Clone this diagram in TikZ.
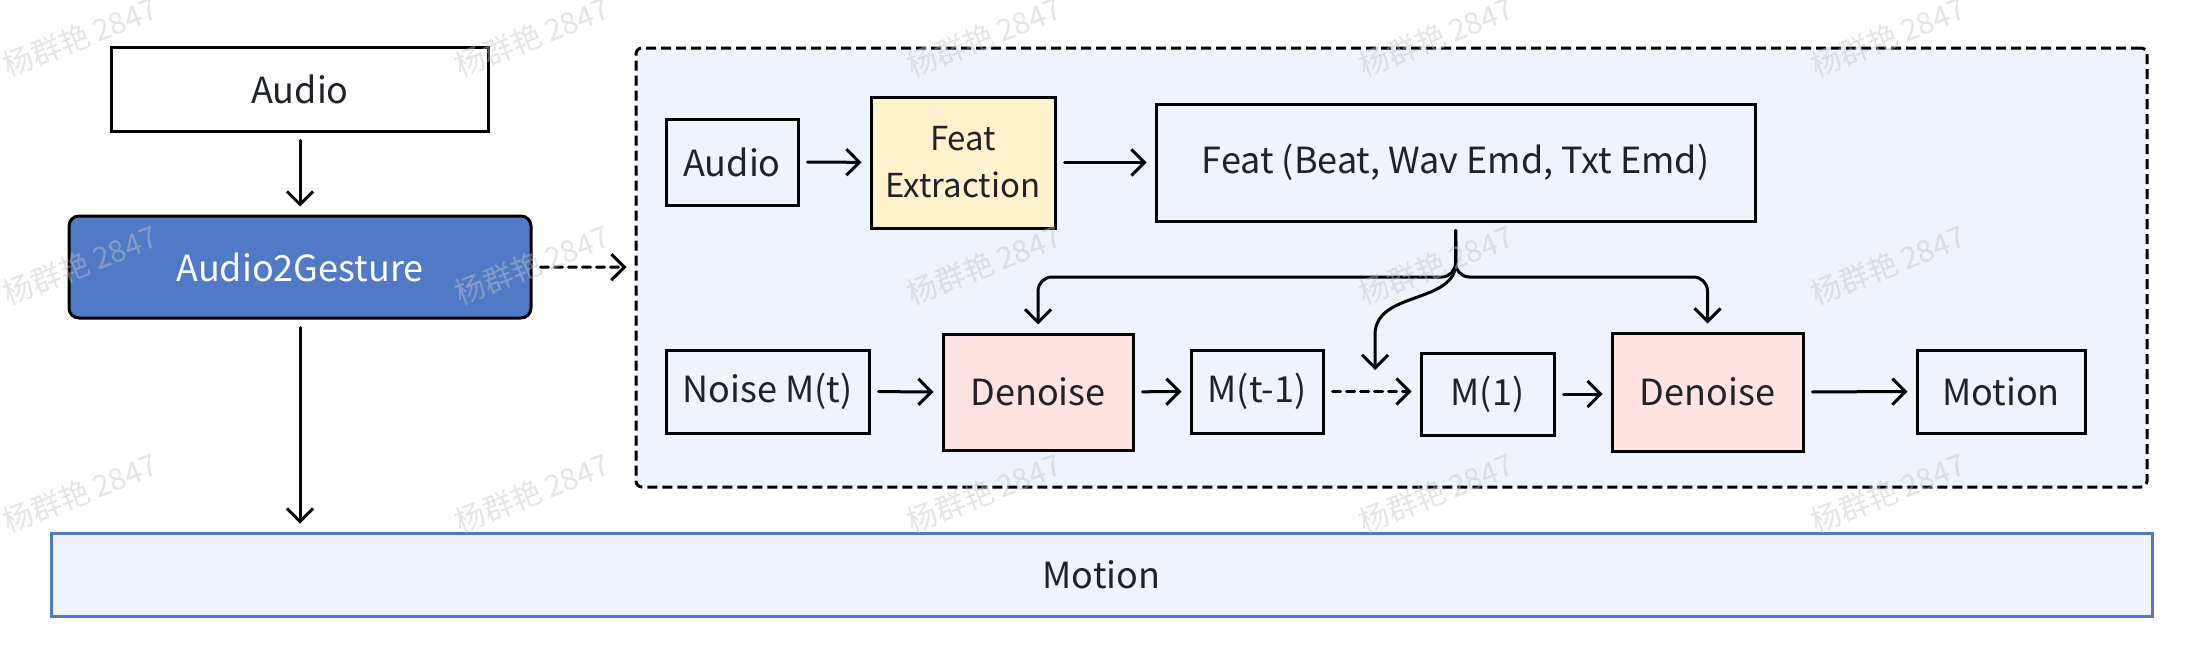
\documentclass[tikz,border=0pt]{standalone}
\usepackage{fontspec}
\setmainfont{Noto Sans CJK SC}
\usetikzlibrary{arrows.meta}
\definecolor{txt}{HTML}{1F2329}
\definecolor{a2gblue}{HTML}{5079C6}
\definecolor{bgblue}{HTML}{EEF3FC}
\definecolor{featyel}{HTML}{FFF2CC}
\definecolor{denpink}{HTML}{FFE2E2}
\definecolor{barblue}{HTML}{5079C8}
\definecolor{wmgray}{HTML}{C4C4C4}
\newcommand{\fsz}{\fontsize{18pt}{23pt}\selectfont}
\begin{document}
\begin{tikzpicture}[x=0.5pt,y=-0.5pt,
  box/.style={draw=black, line width=1.5pt, text=txt, font=\fsz, inner sep=0pt, align=center},
  arr/.style={-{Straight Barb[length=6.5pt,width=13pt,line width=1.5pt]}, line width=1.5pt, line cap=round, shorten <=4pt, shorten >=4pt},
  dasharr/.style={arr, dash pattern=on 4pt off 3pt},
  wm/.style={text=wmgray, opacity=0.45, font=\fontsize{15pt}{15pt}\selectfont, rotate=21.5}
]
\useasboundingbox (0,0) rectangle (2196,664);
% container
\node[draw=black, fill=bgblue, line width=1.5pt, dash pattern=on 5pt off 2.5pt, rounded corners=3pt,
  minimum width=755.5pt, minimum height=219.5pt, inner sep=0pt] (cont) at (1391.5,267.5) {};
% left column
\node[box, fill=white, minimum width=188.5pt, minimum height=42pt] (audio) at (300,89) {Audio};
\node[box, fill=a2gblue, text=white, rounded corners=5pt, minimum width=231pt, minimum height=51pt] (a2g) at (300,267) {Audio2Gesture};
\node[box, draw=barblue, fill=bgblue, minimum width=1050.5pt, minimum height=41.5pt] (bar) at (1101.5,574.5) {Motion};
% inner row 1
\node[box, minimum width=66pt, minimum height=43pt] (aud2) at (732,162) {Audio};
\node[box, fill=featyel, font=\fontsize{16.5pt}{23.5pt}\selectfont, minimum width=92pt, minimum height=65.5pt] (fext) at (963,162.5) {Feat\\Extraction};
\node[box, minimum width=299.5pt, minimum height=58.5pt] (feat) at (1455.5,162.5) {Feat (Beat, Wav Emd, Txt Emd)};
% inner row 2
\node[box, minimum width=101.5pt, minimum height=41.5pt] (noise) at (767.5,391.5) {Noise M(t)};
\node[box, fill=denpink, minimum width=95pt, minimum height=58pt] (den1) at (1038,392) {Denoise};
\node[box, minimum width=66pt, minimum height=41.5pt] (mt1) at (1257,391.5) {M(t-1)};
\node[box, minimum width=66.5pt, minimum height=41pt] (m1) at (1487.5,394) {M(1)};
\node[box, fill=denpink, minimum width=95.5pt, minimum height=59pt] (den2) at (1707.5,392) {Denoise};
\node[box, minimum width=84pt, minimum height=41.5pt] (mot) at (2001,391.5) {Motion};
% helper coordinates
\coordinate (hy) at (0,277);
\coordinate (split) at (1456,262);
\coordinate (mid) at (1375,370);
% connectors
\draw[arr] (audio) -- (a2g);
\draw[arr] (a2g) -- (a2g |- bar.north);
\draw[dasharr] (a2g) -- (cont);
\draw[arr] (aud2) -- (fext);
\draw[arr] (fext) -- (fext -| feat.west);
\draw[arr] (noise) -- (den1);
\draw[arr] (den1) -- (mt1);
\draw[dasharr] (mt1) -- (mt1 -| m1.west);
\draw[arr] (m1 -| m1.east) -- (m1 -| den2.west);
\draw[arr] (den2) -- (mot);
\draw[arr, rounded corners=7pt] (feat.south) -- (feat.south |- hy) -- (den1.north |- hy) -- (den1.north);
\draw[arr, rounded corners=7pt] (feat.south) -- (feat.south |- hy) -- (den2.north |- hy) -- (den2.north);
\draw[arr, shorten >=0pt] (feat.south) -- (split) .. controls (1456,305) and (1375,290) .. (1375,335) -- (mid);
% watermarks
\foreach \wx [count=\i] in {80,532,984,1436,1888}{
  \foreach \wy [count=\j] in {37,265,493}{
    \node[wm] (wm-\i-\j) at (\wx,\wy) {杨群艳 2847};
  }
}
\end{tikzpicture}
\end{document}
